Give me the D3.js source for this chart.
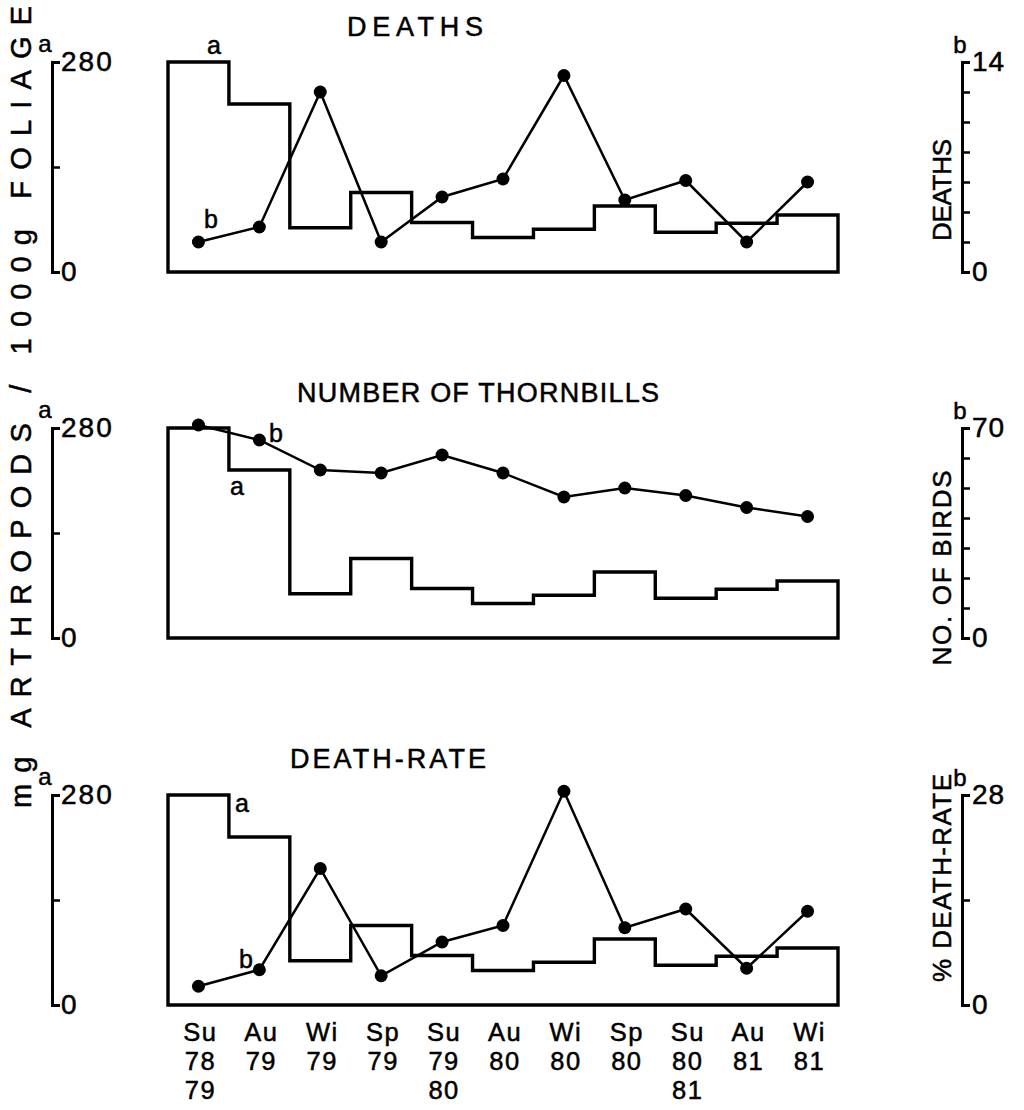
<!DOCTYPE html>
<html>
<head>
<meta charset="utf-8">
<script src="https://cdn.jsdelivr.net/npm/d3@7/dist/d3.min.js"></script>
<style>
  html, body { margin: 0; padding: 0; background: #fff; }
  svg { display: block; }
  text { font-family: "Liberation Sans", Arial, sans-serif; fill: #000; stroke: #000; stroke-width: 0.5px; }
</style>
</head>
<body>
<svg id="chart" width="1024" height="1110"></svg>
<script>
// Seasons (x categories) and their year labels
const seasons   = ["Su", "Au", "Wi", "Sp", "Su", "Au", "Wi", "Sp", "Su", "Au", "Wi"];
const yearRow1  = ["78", "79", "79", "79", "79", "80", "80", "80", "80", "81", "81"];
const yearRow2  = ["79", "",   "",   "",   "80", "",   "",   "",   "81", "",   ""];

// (a) mg arthropods per 1000 g foliage, per season
const arthropods = [280, 224, 59, 106, 66, 46, 57, 88, 53, 65, 76];

// (b) series, one per panel
const deaths    = [2, 3, 12, 2, 5, 6.2, 13.1, 4.8, 6.1, 2, 6];
const birds     = [71, 66, 56, 55, 61, 55, 47, 50, 47.5, 43.5, 40.5];
const deathRate = [2.5, 4.7, 18.2, 3.9, 8.4, 10.6, 28.5, 10.3, 12.8, 4.9, 12.5];

// Axis ticks and titles
const leftTicks  = [0, 140, 280];
const panelTitles = ["DEATHS", "NUMBER OF THORNBILLS", "DEATH-RATE"];
const rightTitles = ["DEATHS", "NO. OF BIRDS", "% DEATH-RATE"];
const rightMax   = [14, 70, 28];
const rightTicks = [
  [0, 2, 4, 6, 8, 10, 12, 14],
  [0, 10, 20, 30, 40, 50, 60, 70],
  [0, 14, 28]
];
const seriesB = [deaths, birds, deathRate];

const svg = d3.select("#chart");

const x = d3.scaleBand().domain(d3.range(seasons.length)).range([168, 838]).padding(0);

// Panel layout: plot top / bottom in pixels, label positions
const panels = [
  { top: 62,  bottom: 272,  title: { x: 415, y: 36,  w: 136 },
    aLabel: [214, 54], bLabel: [211, 228] },
  { top: 428, bottom: 638,  title: { x: 478, y: 402, w: 362 },
    aLabel: [237, 495], bLabel: [276, 442] },
  { top: 795, bottom: 1005, title: { x: 388, y: 768, w: 196 },
    aLabel: [242, 812], bLabel: [246, 968] }
];
const rightTitleSpan = [
  { c: 190, w: 102 },
  { c: 568, w: 195 },
  { c: 878, w: 208 }
];

panels.forEach((p, i) => {
  const g = svg.append("g");
  const yA = d3.scaleLinear().domain([0, 280]).range([p.bottom, p.top]);
  const yB = d3.scaleLinear().domain([0, rightMax[i]]).range([p.bottom, p.top]);

  // panel title
  g.append("text")
    .attr("x", p.title.x).attr("y", p.title.y)
    .attr("text-anchor", "middle")
    .attr("font-size", 27)
    .attr("textLength", p.title.w)
    .attr("lengthAdjust", "spacing")
    .text(panelTitles[i]);

  // left axis (bracket)
  const leftAxis = d3.axisRight(yA)
    .tickValues(leftTicks)
    .tickSizeInner(8).tickSizeOuter(8).tickPadding(1)
    .tickFormat(d => (d === 140 ? "" : d));
  const la = g.append("g").attr("transform", "translate(52,0)").call(leftAxis);
  la.select(".domain").attr("stroke", "#000").attr("stroke-width", 3);
  la.selectAll(".tick line").attr("stroke", "#000").attr("stroke-width", 2.5);
  la.selectAll(".tick text")
    .attr("font-size", 28).attr("font-family", "Liberation Sans, Arial, sans-serif")
    .attr("letter-spacing", 2).attr("fill", "#000");
  g.append("text").attr("x", 45).attr("y", p.top - 10)
    .attr("text-anchor", "middle").attr("font-size", 24).text("a");

  // right axis (bracket)
  const rightAxis = d3.axisRight(yB)
    .tickValues(rightTicks[i])
    .tickSizeInner(8).tickSizeOuter(8).tickPadding(2)
    .tickFormat(d => (d === 0 || d === rightMax[i] ? d : ""));
  const ra = g.append("g").attr("transform", "translate(962,0)").call(rightAxis);
  ra.select(".domain").attr("stroke", "#000").attr("stroke-width", 3);
  ra.selectAll(".tick line").attr("stroke", "#000").attr("stroke-width", 2.5);
  ra.selectAll(".tick text")
    .attr("font-size", 28).attr("font-family", "Liberation Sans, Arial, sans-serif")
    .attr("letter-spacing", 1).attr("fill", "#000");
  g.append("text").attr("x", 960).attr("y", p.top - 9)
    .attr("text-anchor", "middle").attr("font-size", 24).text("b");

  // right axis title (rotated)
  const rt = rightTitleSpan[i];
  g.append("text")
    .attr("transform", `translate(951,${rt.c}) rotate(-90)`)
    .attr("text-anchor", "middle")
    .attr("font-size", 26)
    .attr("textLength", rt.w)
    .attr("lengthAdjust", "spacing")
    .text(rightTitles[i]);

  // (a) step outline of arthropod abundance, closed along the baseline
  const stepPts = [[x(0), 0]]
    .concat(arthropods.map((v, k) => [x(k), v]))
    .concat([[x(arthropods.length - 1) + x.bandwidth(), arthropods[arthropods.length - 1]],
             [x(arthropods.length - 1) + x.bandwidth(), 0]]);
  const stepLine = d3.line()
    .x(d => d[0]).y(d => yA(d[1]))
    .curve(d3.curveStepAfter);
  g.append("path")
    .attr("d", stepLine(stepPts) + "Z")
    .attr("fill", "none").attr("stroke", "#000")
    .attr("stroke-width", 3.4).attr("stroke-linejoin", "miter");

  // (b) line with dots
  const cx = k => x(k) + x.bandwidth() / 2;
  const line = d3.line().x((d, k) => cx(k)).y(d => yB(d));
  g.append("path")
    .attr("d", line(seriesB[i]))
    .attr("fill", "none").attr("stroke", "#000").attr("stroke-width", 2.5);
  g.selectAll("circle.pt").data(seriesB[i]).join("circle")
    .attr("class", "pt")
    .attr("cx", (d, k) => cx(k)).attr("cy", d => yB(d))
    .attr("r", 6.5).attr("fill", "#000");

  // series letters
  g.append("text").attr("x", p.aLabel[0]).attr("y", p.aLabel[1])
    .attr("text-anchor", "middle").attr("font-size", 25).text("a");
  g.append("text").attr("x", p.bLabel[0]).attr("y", p.bLabel[1])
    .attr("text-anchor", "middle").attr("font-size", 25).text("b");
});

// x labels: three rows per season
const rows = [seasons, yearRow1, yearRow2];
const xl = svg.append("g");
rows.forEach((row, r) => {
  xl.selectAll(null).data(row).join("text")
    .attr("x", (d, k) => x(k) + x.bandwidth() / 2 + 2)
    .attr("y", 1041 + r * 29)
    .attr("text-anchor", "middle")
    .attr("font-size", 25.5)
    .attr("letter-spacing", 1.5)
    .text(d => d);
});

// shared left axis title
svg.append("text")
  .attr("transform", "translate(31,808) rotate(-90)")
  .attr("font-size", 29)
  .attr("textLength", 802)
  .attr("lengthAdjust", "spacing")
  .text("mg ARTHROPODS / 1000g FOLIAGE");
</script>
</body>
</html>
